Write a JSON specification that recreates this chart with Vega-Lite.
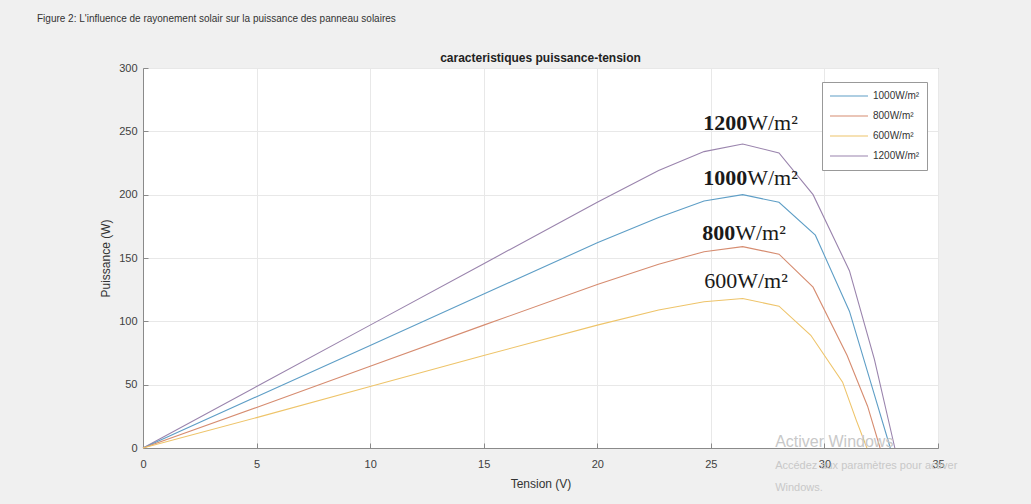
{
  "$schema": "https://vega.github.io/schema/vega-lite/v6.json",
  "width": 795,
  "height": 380,
  "autosize": {"type": "none"},
  "padding": {"left": 143, "top": 68, "right": 93, "bottom": 56},
  "background": "#f0f0f0",
  "config": {
    "view": {"fill": "white", "stroke": "#8a8a8a", "strokeWidth": 1},
    "font": "Liberation Sans"
  },
  "title": {
    "text": "Figure 2: L'influence de rayonement solair sur la puissance des panneau solaires",
    "fontSize": 10,
    "fontWeight": "normal",
    "color": "#333333",
    "anchor": "start",
    "frame": "group",
    "dx": -106,
    "offset": 28,
    "font": "Liberation Sans"
  },
  "datasets": {
    "curves": [
      {"irr": "1200W/m²", "v": 0, "p": 0},
      {"irr": "1200W/m²", "v": 5, "p": 48.5},
      {"irr": "1200W/m²", "v": 10, "p": 97},
      {"irr": "1200W/m²", "v": 15, "p": 145.5},
      {"irr": "1200W/m²", "v": 20, "p": 194},
      {"irr": "1200W/m²", "v": 22.7, "p": 219},
      {"irr": "1200W/m²", "v": 24.7, "p": 234},
      {"irr": "1200W/m²", "v": 26.4, "p": 240},
      {"irr": "1200W/m²", "v": 28.0, "p": 233},
      {"irr": "1200W/m²", "v": 29.5, "p": 200},
      {"irr": "1200W/m²", "v": 31.1, "p": 140},
      {"irr": "1200W/m²", "v": 32.2, "p": 70},
      {"irr": "1200W/m²", "v": 33.1, "p": 0},
      {"irr": "1000W/m²", "v": 0, "p": 0},
      {"irr": "1000W/m²", "v": 5, "p": 40.5},
      {"irr": "1000W/m²", "v": 10, "p": 81},
      {"irr": "1000W/m²", "v": 15, "p": 121.5},
      {"irr": "1000W/m²", "v": 20, "p": 162},
      {"irr": "1000W/m²", "v": 22.7, "p": 182},
      {"irr": "1000W/m²", "v": 24.7, "p": 195},
      {"irr": "1000W/m²", "v": 26.4, "p": 200},
      {"irr": "1000W/m²", "v": 28.0, "p": 194},
      {"irr": "1000W/m²", "v": 29.6, "p": 168},
      {"irr": "1000W/m²", "v": 31.1, "p": 108},
      {"irr": "1000W/m²", "v": 32.1, "p": 48},
      {"irr": "1000W/m²", "v": 32.9, "p": 0},
      {"irr": "800W/m²", "v": 0, "p": 0},
      {"irr": "800W/m²", "v": 5, "p": 32},
      {"irr": "800W/m²", "v": 10, "p": 64.5},
      {"irr": "800W/m²", "v": 15, "p": 97},
      {"irr": "800W/m²", "v": 20, "p": 129},
      {"irr": "800W/m²", "v": 22.7, "p": 145},
      {"irr": "800W/m²", "v": 24.7, "p": 155},
      {"irr": "800W/m²", "v": 26.4, "p": 159},
      {"irr": "800W/m²", "v": 28.0, "p": 153},
      {"irr": "800W/m²", "v": 29.5, "p": 127},
      {"irr": "800W/m²", "v": 31.0, "p": 73},
      {"irr": "800W/m²", "v": 31.9, "p": 33},
      {"irr": "800W/m²", "v": 32.45, "p": 0},
      {"irr": "600W/m²", "v": 0, "p": 0},
      {"irr": "600W/m²", "v": 5, "p": 24},
      {"irr": "600W/m²", "v": 10, "p": 48.5},
      {"irr": "600W/m²", "v": 15, "p": 73},
      {"irr": "600W/m²", "v": 20, "p": 97},
      {"irr": "600W/m²", "v": 22.7, "p": 109},
      {"irr": "600W/m²", "v": 24.7, "p": 115.5},
      {"irr": "600W/m²", "v": 26.4, "p": 118},
      {"irr": "600W/m²", "v": 28.0, "p": 112},
      {"irr": "600W/m²", "v": 29.4, "p": 89},
      {"irr": "600W/m²", "v": 30.8, "p": 52},
      {"irr": "600W/m²", "v": 31.4, "p": 22},
      {"irr": "600W/m²", "v": 31.87, "p": 0}
    ],
    "labels": [
      {"num": "1200", "unit": "W/m²", "v": 26.6, "p": 251, "w": "bold"},
      {"num": "1000", "unit": "W/m²", "v": 26.6, "p": 208, "w": "bold"},
      {"num": "800", "unit": "W/m²", "v": 26.07, "p": 164, "w": "bold"},
      {"num": "600", "unit": "W/m²", "v": 26.16, "p": 126, "w": "normal"}
    ],
    "heading": [
      {"t": "caracteristiques puissance-tension", "v": 17.5, "p": 308}
    ],
    "watermark": [
      {"t": "Activer Windows", "v": 27.83, "p": 1, "s": 16},
      {"t": "Accédez aux paramètres pour activer", "v": 27.83, "p": -16.5, "s": 11},
      {"t": "Windows.", "v": 27.83, "p": -34, "s": 11}
    ]
  },
  "layer": [
    {
      "data": {"name": "curves"},
      "mark": {"type": "line", "strokeWidth": 1.1},
      "encoding": {
        "x": {
          "field": "v",
          "type": "quantitative",
          "scale": {"domain": [0, 35], "nice": false, "zero": false},
          "axis": {
            "title": "Tension (V)",
            "values": [0, 5, 10, 15, 20, 25, 30, 35],
            "labelFlush": false,
            "labelFontSize": 11,
            "labelColor": "#404040",
            "labelFont": "Liberation Sans",
            "tickSize": -5,
            "tickColor": "#8a8a8a",
            "labelPadding": 15,
            "domainColor": "#8a8a8a",
            "gridColor": "#e8e8e8",
            "titleFontSize": 12,
            "titleFontWeight": "normal",
            "titleColor": "#333333",
            "titlePadding": 9,
            "titleFont": "Liberation Sans"
          }
        },
        "y": {
          "field": "p",
          "type": "quantitative",
          "scale": {"domain": [0, 300], "nice": false},
          "axis": {
            "title": "Puissance (W)",
            "values": [0, 50, 100, 150, 200, 250, 300],
            "labelFlush": false,
            "labelFontSize": 11,
            "labelColor": "#404040",
            "labelFont": "Liberation Sans",
            "tickSize": -5,
            "tickColor": "#8a8a8a",
            "labelPadding": 11,
            "domainColor": "#8a8a8a",
            "gridColor": "#e8e8e8",
            "titleFontSize": 12,
            "titleFontWeight": "normal",
            "titleColor": "#333333",
            "titlePadding": 6,
            "titleFont": "Liberation Sans"
          }
        },
        "color": {
          "field": "irr",
          "type": "nominal",
          "scale": {
            "domain": ["1000W/m²", "800W/m²", "600W/m²", "1200W/m²"],
            "range": ["#5e9ec6", "#d68c70", "#eec46a", "#9a84ad"]
          },
          "legend": {
            "title": null,
            "orient": "none",
            "legendX": 679,
            "legendY": 14,
            "fillColor": "white",
            "strokeColor": "#999999",
            "padding": 7,
            "symbolType": "stroke",
            "symbolSize": 1444,
            "symbolStrokeWidth": 1.2,
            "clipHeight": 14,
            "rowPadding": 6,
            "labelFontSize": 10,
            "labelColor": "#333333",
            "labelFont": "Liberation Sans",
            "labelOffset": 4
          }
        }
      }
    },
    {
      "data": {"name": "labels"},
      "transform": [{"filter": "datum.w == 'bold'"}],
      "mark": {"type": "text", "align": "right", "baseline": "alphabetic", "font": "Liberation Serif", "fontSize": 22, "fontWeight": "bold", "color": "#1a1a1a"},
      "encoding": {
        "x": {"field": "v", "type": "quantitative"},
        "y": {"field": "p", "type": "quantitative"},
        "text": {"field": "num"}
      }
    },
    {
      "data": {"name": "labels"},
      "transform": [{"filter": "datum.w != 'bold'"}],
      "mark": {"type": "text", "align": "right", "baseline": "alphabetic", "font": "Liberation Serif", "fontSize": 22, "fontWeight": "normal", "color": "#1a1a1a"},
      "encoding": {
        "x": {"field": "v", "type": "quantitative"},
        "y": {"field": "p", "type": "quantitative"},
        "text": {"field": "num"}
      }
    },
    {
      "data": {"name": "labels"},
      "mark": {"type": "text", "align": "left", "baseline": "alphabetic", "font": "Liberation Serif", "fontSize": 22, "color": "#1a1a1a"},
      "encoding": {
        "x": {"field": "v", "type": "quantitative"},
        "y": {"field": "p", "type": "quantitative"},
        "text": {"field": "unit"}
      }
    },
    {
      "data": {"name": "heading"},
      "mark": {"type": "text", "align": "center", "baseline": "middle", "font": "Liberation Sans", "fontSize": 12, "fontWeight": "bold", "color": "#222222"},
      "encoding": {
        "x": {"field": "v", "type": "quantitative"},
        "y": {"field": "p", "type": "quantitative"},
        "text": {"field": "t"}
      }
    },
    {
      "data": {"name": "watermark"},
      "mark": {"type": "text", "align": "left", "baseline": "alphabetic", "font": "Liberation Sans", "color": "#c8c8c8"},
      "encoding": {
        "x": {"field": "v", "type": "quantitative"},
        "y": {"field": "p", "type": "quantitative"},
        "text": {"field": "t"},
        "size": {"field": "s", "type": "quantitative", "scale": null}
      }
    }
  ]
}
